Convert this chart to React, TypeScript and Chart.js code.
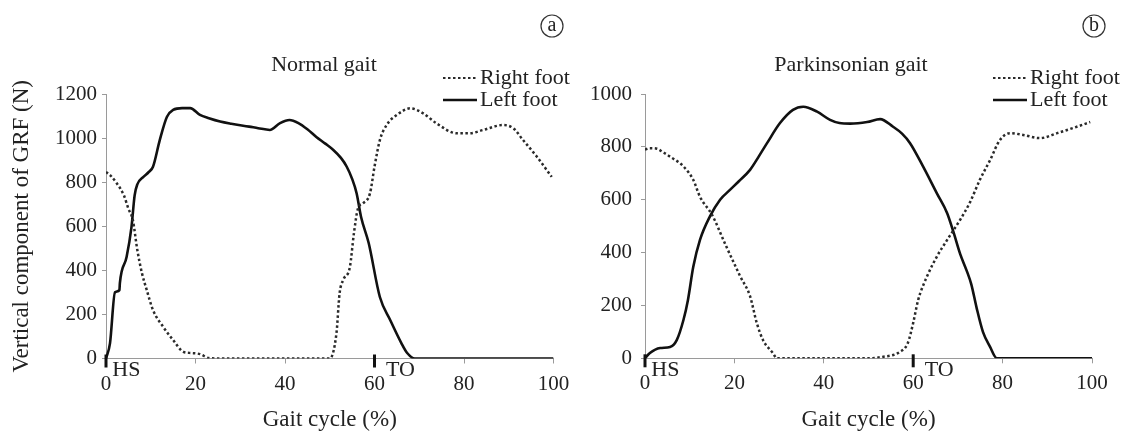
import React, { useEffect, useRef } from "react";
import { Chart, registerables } from "chart.js";
Chart.register(...registerables);

const FONT = '"Liberation Serif", "Times New Roman", Times, serif';
const TEXT = "#222";
const AXIS = "#9a9a9a";

// ---- data ----
const seriesNames = ["Right foot", "Left foot"];
const panelTitles = ["Normal gait", "Parkinsonian gait"];
const panelTags = ["a", "b"];
const xAxisTitle = "Gait cycle (%)";
const yAxisTitle = "Vertical component of GRF (N)";
const eventPos = [0, 60];
const eventLabels = ["HS", "TO"];

const normalRightX = [0, 1, 2.4, 4, 5, 6, 7, 8, 9.1, 10.5, 12.8, 15, 17.3, 19, 21, 23, 25, 50, 51.5, 52.2, 53, 54.5, 55.4, 56.3, 57.5, 59, 60, 61.2, 62.7, 65, 68, 70.9, 73.9, 78.4, 81.3, 84.3, 88.7, 91, 93.2, 96.3, 99.6];
const normalRightY = [846, 830, 795, 740, 680, 628, 492, 390, 311, 220, 143, 84, 30, 25, 20, 2, 0, 0, 115, 296, 356, 415, 568, 680, 705, 750, 870, 991, 1059, 1105, 1135, 1112, 1066, 1022, 1022, 1037, 1059, 1045, 991, 915, 824];

const normalLeftX = [0, 0.9, 2, 3, 3.1, 4.6, 5.7, 6.4, 7, 8.3, 9.5, 10.5, 12, 13.6, 15, 17, 18.8, 21, 23, 25.5, 28, 32, 34, 36.6, 38.9, 41, 43, 45, 47, 49, 50.8, 52.5, 53.8, 55, 56, 57, 58.7, 61.2, 63.5, 66, 67.3, 69, 100];
const normalLeftY = [0, 70, 300, 310, 342, 460, 597, 740, 790, 823, 845, 870, 990, 1096, 1128, 1136, 1136, 1105, 1090, 1075, 1065, 1052, 1045, 1037, 1068, 1082, 1068, 1040, 1005, 975, 946, 910, 870, 815, 750, 642, 524, 279, 175, 70, 25, 0, 0];

const parkRightX = [0, 1, 2.7, 4, 5.6, 8.6, 10.8, 12.3, 15, 18, 21.3, 23.5, 25, 26.4, 28.6, 29.5, 50, 53, 57, 58.8, 60, 61.1, 63.1, 65.3, 67.6, 70.5, 72.7, 74.9, 77.2, 79.4, 81.7, 84.6, 88.4, 92.2, 96.6, 99.6];
const parkRightY = [790, 795, 793, 780, 763, 726, 675, 611, 543, 430, 310, 235, 134, 69, 20, 0, 0, 5, 24, 58, 134, 220, 310, 385, 448, 524, 590, 675, 750, 826, 852, 845, 833, 852, 876, 894];

const parkLeftX = [0, 1.1, 3.4, 5.6, 7.1, 8.6, 9.6, 10.8, 12.3, 14.5, 16.8, 19, 21, 23.5, 25.5, 27.3, 30.2, 33.1, 35.4, 38.5, 41.4, 43.5, 45.9, 49.7, 52.6, 55.5, 57.5, 59.3, 62.2, 65.3, 67.6, 69, 70.5, 72, 73, 74.2, 75.6, 77.2, 78.7, 100];
const parkLeftY = [0, 20, 39, 43, 69, 145, 220, 346, 448, 536, 600, 637, 670, 713, 765, 814, 890, 940, 952, 933, 902, 890, 888, 894, 905, 876, 850, 814, 726, 624, 549, 478, 395, 330, 280, 190, 100, 43, 0, 0];

const normalYMax = 1200;
const parkYMax = 1000;
const yStep = 200;
const xStep = 20;

type PanelCfg = {
  rightX: number[]; rightY: number[]; leftX: number[]; leftY: number[];
  yMax: number; title: string; tag: string;
  width: number; yWidth: number; padRight: number; bottom: number; yPad: number;
  titleX: number; legendX: number; tagX: number; showYTitle: boolean;
};

const DOT_COLOR = "#2a2a2a";
const DOT_DASH = [2.5, 2.5];

function pts(xs: number[], ys: number[]) {
  return xs.map((x, i) => ({ x, y: ys[i] }));
}

function decorPlugin(cfg: PanelCfg) {
  return {
    id: "decor" + cfg.tag,
    afterDraw(chart: any) {
      const ctx: CanvasRenderingContext2D = chart.ctx;
      const xs = chart.scales.x;
      const ys = chart.scales.y;
      ctx.save();
      const y0 = ys.getPixelForValue(0);
      eventPos.forEach((ev, i) => {
        const px = xs.getPixelForValue(ev);
        ctx.setLineDash([]);
        ctx.strokeStyle = "#111";
        ctx.lineWidth = 3;
        ctx.beginPath();
        ctx.moveTo(px, y0 - 4);
        ctx.lineTo(px, y0 + 9);
        ctx.stroke();
        ctx.font = `21px ${FONT}`;
        const tw = ctx.measureText(String(ev)).width;
        ctx.font = `22px ${FONT}`;
        ctx.fillStyle = TEXT;
        ctx.textAlign = "left";
        ctx.textBaseline = "middle";
        ctx.fillText(eventLabels[i], px + tw / 2 + 1, y0 + 12);
      });
      // title
      ctx.font = `22px ${FONT}`;
      ctx.fillStyle = TEXT;
      ctx.textAlign = "center";
      ctx.textBaseline = "middle";
      ctx.fillText(cfg.title, cfg.titleX, 65);
      // legend
      const rows = [
        { name: seriesNames[0], dash: DOT_DASH, w: 2.2, c: DOT_COLOR, y: 78 },
        { name: seriesNames[1], dash: [], w: 2.6, c: "#111", y: 100 },
      ];
      rows.forEach((r) => {
        ctx.setLineDash(r.dash);
        ctx.strokeStyle = r.c;
        ctx.lineWidth = r.w;
        ctx.beginPath();
        ctx.moveTo(cfg.legendX, r.y);
        ctx.lineTo(cfg.legendX + 34, r.y);
        ctx.stroke();
        ctx.setLineDash([]);
        ctx.textAlign = "left";
        ctx.fillText(r.name, cfg.legendX + 37, r.y);
      });
      // tag circle
      ctx.strokeStyle = "#333";
      ctx.lineWidth = 1.2;
      ctx.beginPath();
      ctx.arc(cfg.tagX, 26, 11, 0, Math.PI * 2);
      ctx.stroke();
      ctx.font = `20px ${FONT}`;
      ctx.textAlign = "center";
      ctx.textBaseline = "alphabetic";
      ctx.fillText(cfg.tag, cfg.tagX, 26 + 5);
      ctx.restore();
    },
  };
}

function Panel({ cfg, left }: { cfg: PanelCfg; left: number }) {
  const ref = useRef<HTMLCanvasElement | null>(null);
  useEffect(() => {
    if (!ref.current) return;
    const tickFont = { family: FONT, size: 21 };
    const chart = new Chart(ref.current, {
      type: "line",
      data: {
        datasets: [
          {
            label: seriesNames[0],
            data: pts(cfg.rightX, cfg.rightY),
            borderColor: DOT_COLOR,
            borderWidth: 2.5,
            borderDash: DOT_DASH,
            pointRadius: 0,
            cubicInterpolationMode: "monotone",
            fill: false,
          },
          {
            label: seriesNames[1],
            data: pts(cfg.leftX, cfg.leftY),
            borderColor: "#111",
            borderWidth: 2.6,
            pointRadius: 0,
            cubicInterpolationMode: "monotone",
            fill: false,
          },
        ],
      },
      options: {
        animation: false,
        responsive: false,
        events: [],
        layout: { padding: { top: 94, right: cfg.padRight, bottom: 0, left: 0 } },
        plugins: { legend: { display: false }, tooltip: { enabled: false }, title: { display: false } },
        scales: {
          x: {
            type: "linear",
            min: 0,
            max: 100,
            ticks: { stepSize: xStep, color: TEXT, font: tickFont, padding: 8, maxRotation: 0, callback: (v: any) => String(v) },
            grid: { drawOnChartArea: false, drawTicks: true, tickLength: 5, color: AXIS },
            border: { display: true, color: AXIS, width: 1 },
            title: { display: true, text: xAxisTitle, color: TEXT, font: { family: FONT, size: 23 }, padding: { top: 0, bottom: 0 } },
            afterFit: (s: any) => { s.height = cfg.bottom; },
          },
          y: {
            min: 0,
            max: cfg.yMax,
            ticks: { stepSize: yStep, color: TEXT, font: tickFont, padding: cfg.yPad, callback: (v: any) => String(v) },
            grid: { drawOnChartArea: false, drawTicks: true, tickLength: 4, color: AXIS },
            border: { display: true, color: AXIS, width: 1 },
            title: { display: cfg.showYTitle, text: yAxisTitle, color: TEXT, font: { family: FONT, size: 23 }, padding: { top: 8, bottom: 0 } },
            afterFit: (s: any) => { s.width = cfg.yWidth; },
          },
        },
      },
      plugins: [decorPlugin(cfg)],
    } as any);
    return () => chart.destroy();
  }, [cfg]);
  return (
    <canvas
      ref={ref}
      width={cfg.width}
      height={434}
      style={{ position: "absolute", left, top: 0, width: cfg.width, height: 434, display: "block" }}
    />
  );
}

const normalCfg: PanelCfg = {
  rightX: normalRightX, rightY: normalRightY, leftX: normalLeftX, leftY: normalLeftY,
  yMax: normalYMax, title: panelTitles[0], tag: panelTags[0],
  width: 580, yWidth: 106, padRight: 26.5, bottom: 75.5, yPad: 5,
  titleX: 324, legendX: 443, tagX: 552, showYTitle: true,
};
const parkCfg: PanelCfg = {
  rightX: parkRightX, rightY: parkRightY, leftX: parkLeftX, leftY: parkLeftY,
  yMax: parkYMax, title: panelTitles[1], tag: panelTags[1],
  width: 549, yWidth: 65, padRight: 37, bottom: 75.7, yPad: 9,
  titleX: 271, legendX: 413, tagX: 514, showYTitle: false,
};

export default function App() {
  return (
    <div style={{ position: "fixed", left: 0, top: 0, width: 1129, height: 434, background: "#fff", overflow: "hidden" }}>
      <Panel cfg={normalCfg} left={0} />
      <Panel cfg={parkCfg} left={580} />
    </div>
  );
}
